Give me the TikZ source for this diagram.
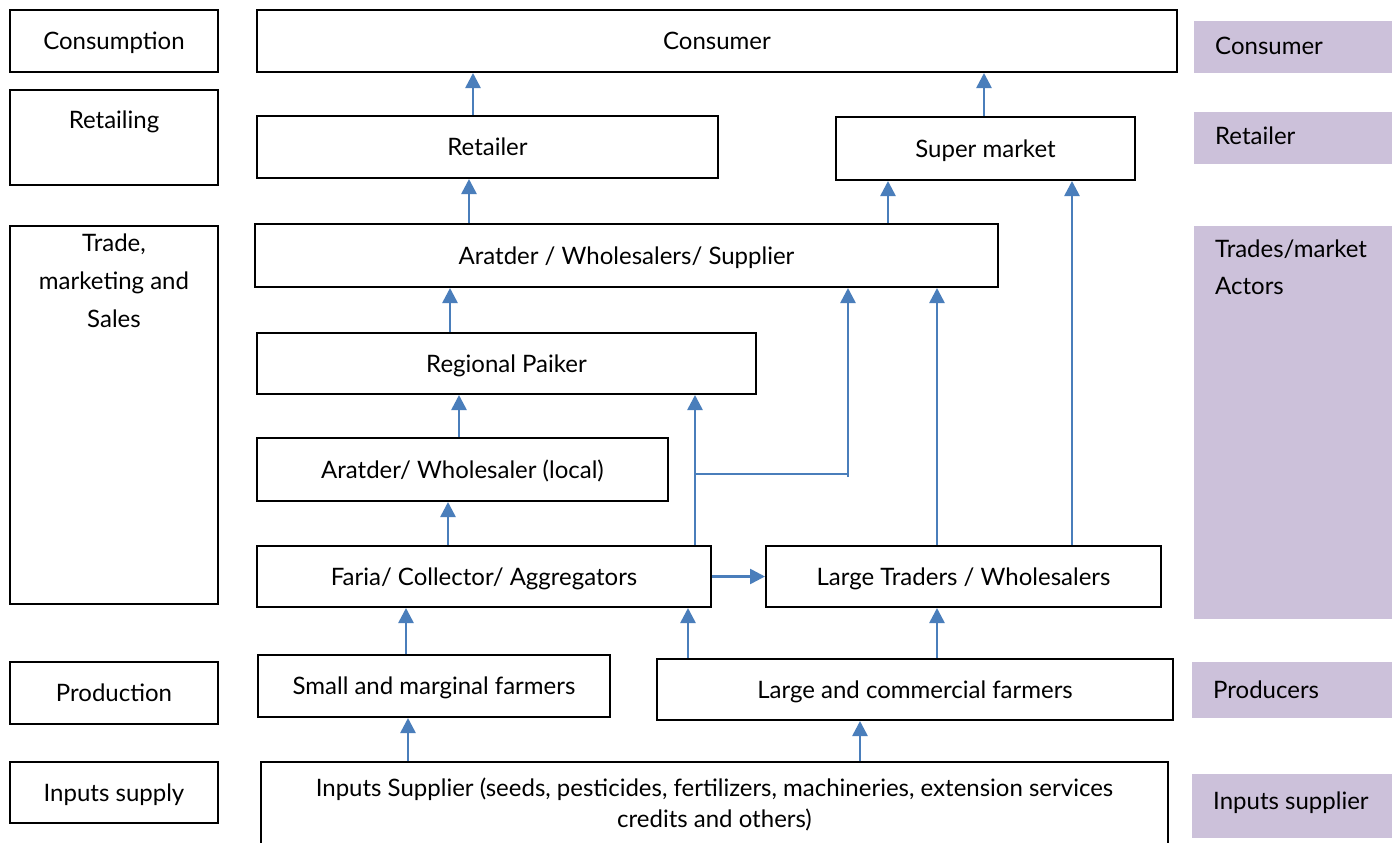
\documentclass[tikz,border=0pt]{standalone}
\usepackage{fontspec}
\setmainfont{Lato}
\usetikzlibrary{arrows.meta}
\definecolor{flowblue}{RGB}{74,126,187}
\definecolor{lavender}{RGB}{204,193,218}
\tikzset{
  x=1pt, y=-1pt,
  every node/.style={font=\fontsize{24}{28}\selectfont},
  box/.style={draw=black, line width=2pt, fill=white, inner sep=0pt,
              text height=17pt, text depth=0pt},
  band/.style={fill=lavender, inner sep=0pt},
  txt/.style={inner sep=0pt, align=center},
  bandtxt/.style={inner sep=0pt, align=left, text height=17pt, text depth=0pt, anchor=west},
  flow/.style={draw=flowblue, line width=2.6pt, -{Triangle[length=15pt,width=15pt]}},
  link/.style={draw=flowblue, line width=2.6pt},
}
\begin{document}
\begin{tikzpicture}
\useasboundingbox (0,0) rectangle (1392,843);
\fill[white] (0,0) rectangle (1392,843);

% stage column
\node[box, minimum width=208, minimum height=62] (consumption) at (114,41) {Consumption};
\node[box, minimum width=208, minimum height=95] (retailing) at (114,137.5) {};
\node[txt, text height=17pt, text depth=0pt] (retailingtxt) at (114,120) {Retailing};
\node[box, minimum width=208, minimum height=378] (trade) at (114,415) {};
\node[txt, anchor=north, font=\fontsize{24}{38}\selectfont] (tradetxt) at (114,234) {Trade,\\marketing and\\Sales};
\node[box, minimum width=208, minimum height=62] (production) at (114,693) {Production};
\node[box, minimum width=208, minimum height=61] (inputsupply) at (114,792.5) {Inputs supply};

% chain actors
\node[box, minimum width=920, minimum height=62] (consumer) at (717,41) {Consumer};
\node[box, minimum width=461, minimum height=62] (retailer) at (487.5,147) {Retailer};
\node[box, minimum width=299, minimum height=63] (supermarket) at (985.5,148.5) {Super market};
\node[box, minimum width=743, minimum height=63] (wholesale) at (626.5,255.5) {Aratder / Wholesalers/ Supplier};
\node[box, minimum width=499, minimum height=61] (paiker) at (506.5,363.5) {Regional Paiker};
\node[box, minimum width=411, minimum height=63] (local) at (462.5,469.5) {Aratder/ Wholesaler (local)};
\node[box, minimum width=454, minimum height=61] (faria) at (484,576.5) {Faria/ Collector/ Aggregators};
\node[box, minimum width=395, minimum height=61] (traders) at (963.5,576.5) {Large Traders / Wholesalers};
\node[box, minimum width=352, minimum height=62] (small) at (434,686) {Small and marginal farmers};
\node[box, minimum width=516, minimum height=61] (large) at (915,689.5) {Large and commercial farmers};
\node[box, minimum width=907, minimum height=140] (inputs) at (714.5,832) {};
\node[txt, anchor=north, font=\fontsize{24}{31}\selectfont] (inputstxt) at (714.5,778)
  {Inputs Supplier (seeds, pesticides, fertilizers, machineries, extension services\\credits and others)};

% role bands
\node[band, minimum width=198, minimum height=52] (bconsumer) at (1293,47) {};
\node[bandtxt] (bconsumertxt) at (1215,46) {Consumer};
\node[band, minimum width=198, minimum height=52] (bretailer) at (1293,138) {};
\node[bandtxt] (bretailertxt) at (1215,136) {Retailer};
\node[band, minimum width=198, minimum height=393] (bactors) at (1293,422.5) {};
\node[txt, anchor=north west, align=left, font=\fontsize{24}{37}\selectfont] (bactorstxt) at (1215,240) {Trades/market\\Actors};
\node[band, minimum width=200, minimum height=56] (bproducers) at (1292,690) {};
\node[bandtxt] (bproducerstxt) at (1213,690) {Producers};
\node[band, minimum width=200, minimum height=64] (binputs) at (1292,806) {};
\node[bandtxt] (binputstxt) at (1213,801) {Inputs supplier};

% flows
\draw[flow] (retailer.north -| 473,0) -- (consumer.south -| 473,0);
\draw[flow] (supermarket.north -| 984,0) -- (consumer.south -| 984,0);
\draw[flow] (wholesale.north -| 469,0) -- (retailer.south -| 469,0);
\draw[flow] (wholesale.north -| 888,0) -- (supermarket.south -| 888,0);
\draw[flow] (traders.north -| 1072,0) -- (supermarket.south -| 1072,0);
\draw[flow] (paiker.north -| 450,0) -- (wholesale.south -| 450,0);
\draw[flow] (local.north -| 459,0) -- (paiker.south -| 459,0);
\draw[flow] (faria.north -| 448,0) -- (local.south -| 448,0);
\draw[flow] (faria.north -| 695,0) -- (paiker.south -| 695,0);
\coordinate (split) at (695,474);
\coordinate (bend) at (848,474);
\draw[link] (split) -- (bend);
\draw[flow] ([yshift=-3pt]bend) -- (wholesale.south -| 848,0);
\draw[flow] (faria.east) -- (traders.west);
\draw[flow] (traders.north -| 937,0) -- (wholesale.south -| 937,0);
\draw[flow] (small.north -| 406,0) -- (faria.south -| 406,0);
\draw[flow] (large.north -| 688,0) -- (faria.south -| 688,0);
\draw[flow] (large.north -| 937,0) -- (traders.south -| 937,0);
\draw[flow] (inputs.north -| 408,0) -- (small.south -| 408,0);
\draw[flow] (inputs.north -| 860,0) -- (large.south -| 860,0);
\end{tikzpicture}
\end{document}
